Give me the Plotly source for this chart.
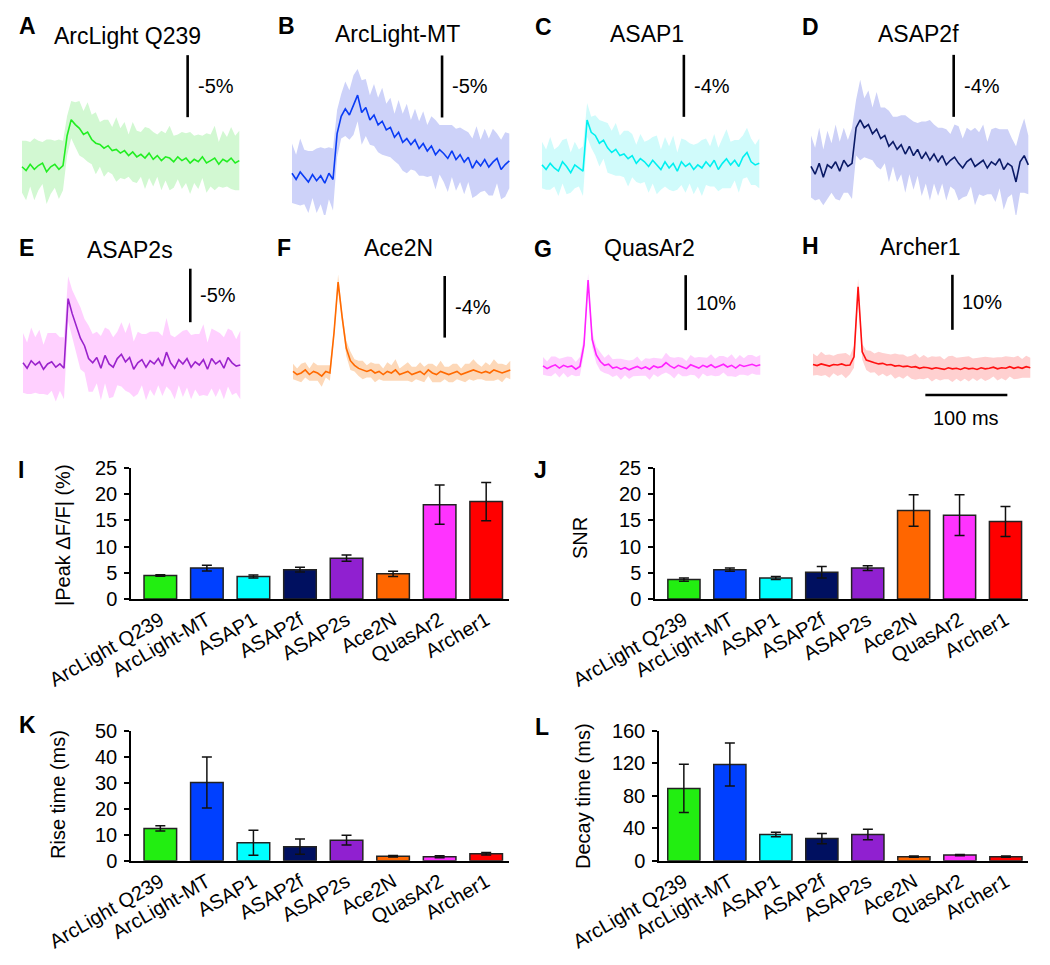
import plotly.graph_objects as go

# page body has an 8px margin, so the figure is drawn 8px in from the window edge
PAGE_OFF = 8
W, H = 1050 - PAGE_OFF, 965 - PAGE_OFF
FONT = "Liberation Sans, Arial, sans-serif"

# ---------------- data ----------------
sensors = ["ArcLight Q239", "ArcLight-MT", "ASAP1", "ASAP2f", "ASAP2s", "Ace2N", "QuasAr2", "Archer1"]
trace_letters = ["A", "B", "C", "D", "E", "F", "G", "H"]
scale_labels = ["-5%", "-5%", "-4%", "-4%", "-5%", "-4%", "10%", "10%"]
scale_lengths = [5, 5, 4, 4, 5, 4, 10, 10]   # % dF/F
time_bar_ms = 100
sample_ms = 5

# mean |dF/F| (%) traces, one sample every 5 ms
mean_A = [0.1, -0.2, 0.3, -0.1, 0.2, 0.4, -0.3, 0.1, 0.3, -0.1, 0.2,
          2.6, 3.9, 3.5, 3.2, 2.7, 2.9, 2.3, 2.0, 1.9, 1.6, 1.8, 1.4, 1.5, 1.2, 1.4, 1.0, 1.3, 0.9, 1.1, 0.8,
          1.2, 0.7, 1.0, 0.6, 0.9, 0.8, 0.5, 0.9, 0.6, 0.8, 0.4, 0.7, 0.5, 0.9, 0.4, 0.6, 0.8, 0.3, 0.7, 0.5,
          0.8, 0.4, 0.6]
mean_B = [0.3, -0.2, 0.4, 0.0, -0.4, 0.2, -0.3, 0.1, -0.5, 0.3, -0.2,
          3.5, 4.9, 5.5, 5.0, 5.8, 6.6, 5.2, 5.6, 4.6, 5.0, 4.2, 4.5, 3.8, 4.0, 3.2, 3.6, 2.8, 3.1, 2.6, 3.0,
          2.3, 2.7, 2.1, 2.5, 1.8, 2.2, 1.9, 1.5, 2.1, 1.4, 1.8, 1.2, 1.6, 0.7, 1.3, 0.9, 1.4, 0.8, 1.2, 1.5,
          0.6, 1.0, 1.3]
mean_C = [0.2, -0.1, 0.3, 0.0, -0.2, 0.4, 0.1, -0.3, 0.2, 0.0, -0.2,
          3.1, 2.3, 2.1, 1.6, 1.8, 1.3, 1.0, 1.2, 0.8, 0.9, 0.6, 0.8, 0.3, 0.6, 0.4, 0.1, 0.5, 0.2, -0.1, 0.4,
          0.0, 0.3, -0.2, 0.4, 0.1, 0.3, -0.1, 0.2, 0.0, 0.4, 0.1, 0.5, -0.1, 0.3, 0.6, 0.2, 0.5, 0.1, 0.7, 1.0,
          0.4, 0.2, 0.3]
mean_D = [0.1, -0.4, 0.3, -0.6, 0.2, 0.0, 0.4, -0.2, 0.5, 0.1, 0.3,
          2.6, 3.1, 2.6, 2.8, 2.2, 2.5, 1.9, 2.1, 1.4, 1.7, 1.2, 1.5, 0.9, 1.4, 0.8, 1.2, 0.6, 1.0, 0.5, 0.9,
          0.4, 0.8, 0.2, 0.5, 0.7, 0.3, 0.0, 0.4, 0.6, 0.1, 0.3, 0.5, 0.0, 0.4, 0.2, 0.6, -0.1, 0.3, 0.1, -0.9,
          0.4, 0.8, 0.2]
mean_E = [0.2, -0.3, 0.4, 0.0, 0.3, -0.4, 0.1, 0.3, -0.2, 0.1, -0.3,
          6.2, 4.8, 3.6, 2.5, 1.8, 0.6, 0.2, 0.7, -0.3, 0.9, 0.1, -0.2, 0.6, 1.0, 0.3, 0.7, -0.4, 0.2, 0.5, -0.2,
          0.4, 0.1, 0.6, -0.1, 1.2, 0.2, -0.3, 0.5, 0.1, 0.6, -0.2, 0.3, 0.0, 0.5, -0.4, 0.6, 0.1, 0.4, -0.3, 0.7,
          0.2, -0.1, 0.0]
mean_F = [0.1, -0.1, 0.0, 0.2, -0.1, 0.1, 0.0, -0.2, 0.1, 0.0, 2.6,
          5.9, 3.6, 1.6, 0.8, 0.5, 0.3, 0.2, 0.1, 0.2, 0.0, 0.1, -0.1, 0.1, 0.0, 0.2, -0.1, 0.0, 0.1, -0.1, 0.0,
          0.1, -0.1, 0.2, 0.0, -0.1, 0.1, 0.0, -0.1, 0.0, 0.1, -0.1, 0.0, 0.1, 0.2, 0.1, 0.0, 0.1, 0.0, 0.2, 0.1,
          0.0, 0.1, 0.2]
mean_G = [0.2, -0.3, 0.1, 0.4, -0.2, 0.3, 0.0, 0.2, -0.4, 0.1, 4.0,
          15.8, 5.0, 2.2, 1.0, 0.3, 0.5, -0.2, 0.0, -0.4, -0.1, -0.5, -0.2, 0.1, -0.3, 0.0, -0.4, 0.2, -0.1, 0.1, 0.8,
          0.2, -0.2, 0.3, 0.0, -0.3, 0.4, 0.1, -0.2, 0.3, 0.0, 0.4, -0.1, 0.2, 0.5, 0.0, 0.3, -0.2, 0.4, 0.1, 0.3,
          0.5, 0.2, 0.4]
mean_H = [0.1, -0.1, 0.2, 0.0, -0.2, 0.1, 0.0, 0.2, -0.1, 0.0, 1.5,
          14.2, 2.4, 0.9, 0.6, 0.4, 0.2, 0.3, 0.0, 0.1, -0.2, -0.1, -0.3, -0.2, -0.4, -0.3, -0.6, -0.4, -0.5, -0.7, -0.5,
          -0.6, -0.8, -0.5, -0.7, -0.6, -0.8, -0.5, -0.7, -0.6, -0.8, -0.5, -0.7, -0.6, -0.4, -0.7, -0.5, -0.6, -0.3, -0.6, -0.4,
          -0.6, -0.3, -0.5]

# spread (shaded band half-width, % dF/F)
sd_A = [2.1, 2.4, 1.8, 2.5, 2.0, 1.7, 2.6, 2.2, 1.9, 2.4, 2.0, 1.6, 1.5, 1.8, 2.2, 1.9, 2.4, 2.0, 2.5, 1.8, 2.3,
        2.1, 1.9, 2.6, 2.0, 2.3, 1.7, 2.4, 2.1, 1.8, 2.5, 2.0, 2.2, 1.7, 2.4, 1.9, 2.6, 2.1, 1.8, 2.3, 2.0,
        2.5, 1.9, 2.2, 1.7, 2.4, 2.1, 2.6, 1.8, 2.3, 2.0, 2.5, 2.2, 2.4]
sd_B = [2.4, 2.0, 2.7, 2.2, 2.5, 1.9, 2.6, 2.3, 2.8, 2.1, 2.5, 1.9, 1.8, 2.2, 2.0, 2.4, 2.1, 2.6, 2.3, 2.0, 2.5,
        2.2, 2.7, 2.1, 2.4, 1.9, 2.6, 2.3, 2.8, 2.0, 2.5, 2.2, 2.6, 2.1, 2.4, 2.8, 2.0, 2.3, 2.7, 2.1, 2.5,
        2.2, 2.6, 2.0, 2.4, 2.8, 2.1, 2.5, 2.3, 2.7, 2.0, 2.4, 2.6, 2.2]
sd_C = [1.5, 1.3, 1.7, 1.2, 1.6, 1.4, 1.8, 1.3, 1.5, 1.2, 1.6, 1.1, 1.0, 1.3, 1.5, 1.2, 1.6, 1.4, 1.7, 1.3, 1.5,
        1.8, 1.4, 1.2, 1.6, 1.3, 1.7, 1.5, 1.9, 1.3, 1.6, 1.4, 1.8, 1.2, 1.5, 1.7, 1.3, 1.6, 1.4, 1.8, 1.5,
        1.3, 1.7, 1.4, 1.6, 1.9, 1.5, 1.3, 1.7, 1.4, 1.6, 1.5, 1.3, 1.6]
sd_D = [2.0, 1.7, 2.3, 1.8, 2.2, 1.6, 2.4, 1.9, 2.1, 1.7, 2.3, 1.8, 2.6, 1.9, 2.2, 1.7, 2.4, 2.0, 1.8, 2.3, 1.6,
        2.1, 1.9, 2.5, 1.8, 2.2, 1.7, 2.4, 2.0, 2.6, 1.9, 2.2, 1.8, 2.3, 1.7, 2.1, 2.4, 1.9, 2.2, 1.8, 2.5,
        2.0, 2.3, 1.7, 2.1, 2.4, 1.9, 2.6, 2.2, 1.8, 2.3, 2.0, 2.4, 1.9]
sd_E = [2.8, 2.4, 3.1, 2.6, 3.0, 2.3, 2.9, 2.7, 3.2, 2.5, 2.9, 2.1, 2.2, 2.6, 2.9, 2.5, 3.1, 2.7, 2.4, 3.0, 2.6,
        3.2, 2.8, 2.5, 3.0, 2.7, 3.3, 2.6, 2.9, 2.4, 3.1, 2.7, 3.0, 2.5, 2.8, 3.2, 2.6, 2.9, 2.4, 3.1, 2.7,
        3.0, 2.6, 2.9, 3.3, 2.5, 2.8, 3.1, 2.6, 2.9, 2.7, 3.0, 2.5, 3.2]
sd_F = [0.5, 0.4, 0.6, 0.5, 0.4, 0.6, 0.5, 0.7, 0.4, 0.5, 0.4, 0.5, 0.4, 0.5, 0.6, 0.4, 0.5, 0.6, 0.4, 0.5, 0.6,
        0.5, 0.4, 0.6, 0.5, 0.7, 0.4, 0.5, 0.6, 0.5, 0.4, 0.6, 0.5, 0.4, 0.6, 0.5, 0.7, 0.4, 0.5, 0.6, 0.5,
        0.4, 0.6, 0.5, 0.7, 0.5, 0.4, 0.6, 0.5, 0.7, 0.5, 0.6, 0.4, 0.6]
sd_G = [1.6, 1.3, 1.8, 1.5, 1.7, 1.4, 1.9, 1.6, 1.3, 1.7, 1.5, 1.2, 1.4, 1.5, 1.7, 1.4, 1.8, 1.6, 1.5, 1.9, 1.4,
        1.7, 1.5, 1.8, 1.3, 1.6, 1.9, 1.5, 1.7, 1.4, 1.8, 1.6, 1.9, 1.5, 1.7, 1.4, 1.8, 1.6, 2.0, 1.5, 1.7,
        1.9, 1.6, 1.8, 1.5, 1.7, 2.0, 1.6, 1.8, 1.5, 1.9, 1.7, 1.6, 1.8]
sd_H = [2.0, 1.7, 2.2, 1.8, 2.1, 1.6, 2.0, 1.9, 2.3, 1.7, 2.0, 1.5, 1.4, 1.8, 2.0, 1.7, 2.2, 1.9, 2.1, 1.8, 2.3,
        2.0, 2.2, 1.7, 2.1, 2.4, 1.9, 2.2, 1.8, 2.3, 2.0, 2.2, 1.8, 2.1, 2.4, 1.9, 2.2, 2.0, 2.3, 1.8, 2.1,
        1.9, 2.2, 2.0, 1.7, 2.1, 1.9, 2.2, 1.8, 2.0, 2.1, 1.7, 2.0, 1.8]

means = [mean_A, mean_B, mean_C, mean_D, mean_E, mean_F, mean_G, mean_H]
sds = [sd_A, sd_B, sd_C, sd_D, sd_E, sd_F, sd_G, sd_H]

# bar-chart summaries
peak_mean = [4.5, 5.9, 4.3, 5.6, 7.8, 4.8, 18.0, 18.6]
peak_err = [0.15, 0.55, 0.3, 0.45, 0.6, 0.5, 3.75, 3.65]
snr_mean = [3.7, 5.6, 4.0, 5.1, 5.9, 16.9, 16.0, 14.8]
snr_err = [0.3, 0.3, 0.3, 1.1, 0.45, 3.0, 3.9, 2.85]
rise_mean = [12.4, 30.1, 6.9, 5.4, 7.9, 1.7, 1.5, 2.7]
rise_err = [1.0, 9.8, 4.8, 2.9, 1.9, 0.3, 0.4, 0.5]
decay_mean = [89.0, 118.4, 32.2, 27.3, 32.2, 4.9, 6.9, 4.9]
decay_err = [29.6, 26.5, 2.8, 6.3, 6.5, 0.8, 0.8, 0.8]

# ---------------- styles ----------------
line_colors = ["#22ee22", "#0a3cf5", "#00f0f0", "#0a1a66", "#9a22cc", "#ff6a00", "#ff22ff", "#ff1010"]
band_colors = ["#d2f8d2", "#cdd2f9", "#d0fbfb", "#cdd1f7", "#ffd0ff", "#fdd8b8", "#ffd0ff", "#ffd0d0"]
bar_colors = ["#22ee11", "#0040ff", "#00ffff", "#001060", "#9020d0", "#ff6600", "#ff33ff", "#ff0000"]


def px2x(px):
    return (px - PAGE_OFF) / W


def px2y(py):
    return 1 - (py - PAGE_OFF) / H


PX_PER_MS = 0.82
# trace panel geometry (window pixels): trace start x, baseline y, px per %, row top/bottom,
# scale-bar time (ms) & bottom value (%), title centre, letter centre
panels = [
    dict(x0=22, yb=168, s=12.4, top=45, bot=215, bt=202, bv=4.1, title=(127, 36), letter=(27, 26)),
    dict(x0=292, yb=177, s=12.4, top=45, bot=215, bt=183, bv=4.8, title=(397, 34), letter=(286, 26)),
    dict(x0=542, yb=168, s=15.5, top=45, bot=215, bt=173, bv=3.3, title=(647, 34), letter=(543, 27)),
    dict(x0=811, yb=168, s=15.5, top=45, bot=215, bt=174, bv=3.3, title=(918, 34), letter=(810, 27)),
    dict(x0=23, yb=365, s=10.7, top=255, bot=430, bt=204, bv=4.0, title=(130, 250), letter=(26, 248)),
    dict(x0=293, yb=373, s=15.4, top=255, bot=430, bt=185, bv=2.3, title=(398, 248), letter=(284, 248)),
    dict(x0=543, yb=367, s=5.5, top=255, bot=430, bt=174, bv=6.7, title=(649, 248), letter=(543, 249)),
    dict(x0=813, yb=365, s=5.5, top=255, bot=430, bt=170, bv=6.4, title=(920, 247), letter=(810, 246)),
]

fig = go.Figure()
layout = dict(
    width=W, height=H, autosize=False,
    margin=dict(l=0, r=0, t=0, b=0, autoexpand=False),
    paper_bgcolor="white", plot_bgcolor="white",
    showlegend=False,
    font=dict(family=FONT, color="black", size=20),
)
shapes = []
annotations = []

for i, p in enumerate(panels):
    k = i + 1
    xa, ya = f"x{k}", f"y{k}"
    t = [sample_ms * j for j in range(len(means[i]))]
    m = means[i]
    up = [a + b for a, b in zip(m, sds[i])]
    lo = [a - b for a, b in zip(m, sds[i])]
    fig.add_trace(go.Scatter(x=t + t[::-1], y=up + lo[::-1], fill="toself", fillcolor=band_colors[i],
                             line=dict(width=0), mode="lines", hoverinfo="skip", xaxis=xa, yaxis=ya))
    fig.add_trace(go.Scatter(x=t, y=m, mode="lines", line=dict(color=line_colors[i], width=1.6),
                             xaxis=xa, yaxis=ya, name=sensors[i]))
    left, right = p["x0"] - 6, p["x0"] + 232
    layout[f"xaxis{k}"] = dict(domain=[px2x(left), px2x(right)],
                               range=[(left - p["x0"]) / PX_PER_MS, (right - p["x0"]) / PX_PER_MS],
                               visible=False, anchor=ya, automargin=False)
    layout[f"yaxis{k}"] = dict(domain=[px2y(p["bot"]), px2y(p["top"])],
                               range=[(p["yb"] - p["bot"]) / p["s"], (p["yb"] - p["top"]) / p["s"]],
                               visible=False, anchor=xa, automargin=False)
    # vertical amplitude scale bar
    L = scale_lengths[i]
    shapes.append(dict(type="line", xref=xa, yref=ya, x0=p["bt"], x1=p["bt"], y0=p["bv"], y1=p["bv"] + L,
                       line=dict(color="black", width=2.6)))
    annotations.append(dict(x=p["bt"], y=p["bv"] + L / 2, xref=xa, yref=ya, text=scale_labels[i],
                            showarrow=False, xanchor="left", yanchor="middle", xshift=8,
                            font=dict(size=20)))
    annotations.append(dict(x=px2x(p["title"][0]), y=px2y(p["title"][1]), xref="paper", yref="paper",
                            text=sensors[i], showarrow=False, xanchor="center", yanchor="middle",
                            font=dict(size=23)))
    annotations.append(dict(x=px2x(p["letter"][0]), y=px2y(p["letter"][1]), xref="paper", yref="paper",
                            text=f"<b>{trace_letters[i]}</b>", showarrow=False, xanchor="center",
                            yanchor="middle", font=dict(size=23)))

# time scale bar in panel H
tb0 = 137
tbv = -5.45
shapes.append(dict(type="line", xref="x8", yref="y8", x0=tb0, x1=tb0 + time_bar_ms, y0=tbv, y1=tbv,
                   line=dict(color="black", width=2.6)))
annotations.append(dict(x=tb0 + time_bar_ms / 2, y=tbv, xref="x8", yref="y8", text=f"{time_bar_ms} ms",
                        showarrow=False, xanchor="center", yanchor="middle", yshift=-23,
                        font=dict(size=20)))

# ---------------- bar panels ----------------
bar_panels = [
    dict(vals=peak_mean, errs=peak_err, xd=(131, 509), yd=(468, 599), xr=(-0.63, 7.49), yr=(0, 25), dt=5,
         title="|Peak \u0394F/F| (%)", tpos=(63, 535), letter="I", lpos=(21, 470)),
    dict(vals=snr_mean, errs=snr_err, xd=(655, 1028), yd=(468, 599), xr=(-0.63, 7.49), yr=(0, 25), dt=5,
         title="SNR", tpos=(580, 538), letter="J", lpos=(540, 470)),
    dict(vals=rise_mean, errs=rise_err, xd=(131, 509), yd=(730.7, 860.7), xr=(-0.63, 7.49), yr=(0, 50), dt=10,
         title="Rise time (ms)", tpos=(58, 795), letter="K", lpos=(27, 725)),
    dict(vals=decay_mean, errs=decay_err, xd=(659, 1028), yd=(730.7, 860.7), xr=(-0.54, 7.48), yr=(0, 160), dt=40,
         title="Decay time (ms)", tpos=(583, 796), letter="L", lpos=(542, 727)),
]

for j, b in enumerate(bar_panels):
    k = 9 + j
    xa, ya = f"x{k}", f"y{k}"
    fig.add_trace(go.Bar(x=sensors, y=b["vals"], width=0.7,
                         marker=dict(color=bar_colors, line=dict(color="#222222", width=1.5)),
                         error_y=dict(type="data", array=b["errs"], visible=True, color="#111111",
                                      thickness=1.5, width=5),
                         xaxis=xa, yaxis=ya))
    layout[f"xaxis{k}"] = dict(domain=[px2x(b["xd"][0]), px2x(b["xd"][1])], range=list(b["xr"]),
                               anchor=ya, showline=True, linecolor="black", linewidth=1.5,
                               ticks="", tickangle=-30, tickfont=dict(size=20), showgrid=False,
                               zeroline=False, fixedrange=True, automargin=False)
    layout[f"yaxis{k}"] = dict(domain=[px2y(b["yd"][1]), px2y(b["yd"][0])], range=list(b["yr"]),
                               dtick=b["dt"], tick0=0, anchor=xa, showline=True, linecolor="black",
                               linewidth=1.5, ticks="outside", ticklen=5, tickwidth=1.5,
                               tickcolor="black", tickfont=dict(size=20), showgrid=False,
                               zeroline=False, ticklabelstandoff=3, automargin=False)
    annotations.append(dict(x=px2x(b["tpos"][0]), y=px2y(b["tpos"][1]), xref="paper", yref="paper",
                            text=b["title"], textangle=-90, showarrow=False, xanchor="center",
                            yanchor="middle", font=dict(size=20)))
    annotations.append(dict(x=px2x(b["lpos"][0]), y=px2y(b["lpos"][1]), xref="paper", yref="paper",
                            text=f"<b>{b['letter']}</b>", showarrow=False, xanchor="center",
                            yanchor="middle", font=dict(size=23)))

layout["shapes"] = shapes
layout["annotations"] = annotations
fig.update_layout(**layout)
fig.write_html("out.html")
